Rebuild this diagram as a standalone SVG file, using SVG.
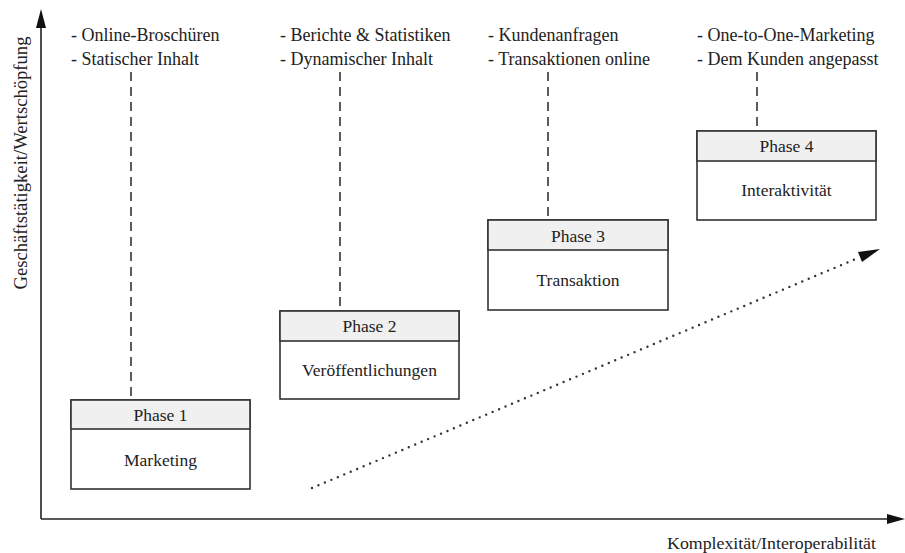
<svg xmlns="http://www.w3.org/2000/svg" width="905" height="553" viewBox="0 0 905 553">
<style>
.t{font-family:"Liberation Serif","Times New Roman",serif;font-size:17.5px;fill:#222}
.top{font-size:18px}
.c{text-anchor:middle}
.box{fill:#fff;stroke:#333;stroke-width:1.6}
.hdr{fill:#f0f0f0;stroke:#333;stroke-width:1.6}
.dash{stroke:#333;stroke-width:1.6;stroke-dasharray:9 6;fill:none}
.axis{stroke:#222;stroke-width:1.6;fill:none}
</style>
<rect width="905" height="553" fill="#fff"/>
<g id="axes">
<line class="axis" x1="41" y1="26" x2="41" y2="519"/>
<line class="axis" x1="41" y1="519" x2="890" y2="519"/>
<polygon points="41,9 36,28 46,28" fill="#111"/>
<polygon points="905,519 887,514 887,524" fill="#111"/>
<text class="t c" transform="translate(27,163) rotate(-90)" textLength="253" lengthAdjust="spacingAndGlyphs" style="font-size:18px">Geschäftstätigkeit/Wertschöpfung</text>
<text class="t" x="876" y="549" text-anchor="end" textLength="209" lengthAdjust="spacingAndGlyphs">Komplexität/Interoperabilität</text>
</g>
<g id="connectors">
<line class="dash" x1="131" y1="72" x2="131" y2="400"/>
<line class="dash" x1="340" y1="72" x2="340" y2="311"/>
<line class="dash" x1="548" y1="72" x2="548" y2="220"/>
<line class="dash" x1="757" y1="72" x2="757" y2="131"/>
<line x1="312" y1="488" x2="858" y2="258" stroke="#333" stroke-width="2.4" stroke-linecap="round" stroke-dasharray="0 7"/>
<polygon points="880,249 858,252 862,262" fill="#111"/>
</g>
<g id="labels">
<text class="t top" x="71" y="41">- Online-Broschüren</text>
<text class="t top" x="71" y="65">- Statischer Inhalt</text>
<text class="t top" x="280" y="41">- Berichte &amp; Statistiken</text>
<text class="t top" x="280" y="65">- Dynamischer Inhalt</text>
<text class="t top" x="488" y="41">- Kundenanfragen</text>
<text class="t top" x="488" y="65">- Transaktionen online</text>
<text class="t top" x="697" y="41">- One-to-One-Marketing</text>
<text class="t top" x="697" y="65">- Dem Kunden angepasst</text>
</g>
<g id="phase1">
<rect class="box" x="71" y="400" width="179" height="89"/>
<rect class="hdr" x="71" y="400" width="179" height="29"/>
<text class="t c" x="160.5" y="421">Phase 1</text>
<text class="t c" x="160.5" y="466">Marketing</text>
</g>
<g id="phase2">
<rect class="box" x="280" y="311" width="179" height="88"/>
<rect class="hdr" x="280" y="311" width="179" height="30"/>
<text class="t c" x="369.5" y="332">Phase 2</text>
<text class="t c" x="369.5" y="376">Veröffentlichungen</text>
</g>
<g id="phase3">
<rect class="box" x="488" y="220" width="180" height="90"/>
<rect class="hdr" x="488" y="220" width="180" height="30"/>
<text class="t c" x="578" y="242">Phase 3</text>
<text class="t c" x="578" y="286">Transaktion</text>
</g>
<g id="phase4">
<rect class="box" x="697" y="131" width="179" height="89"/>
<rect class="hdr" x="697" y="131" width="179" height="30"/>
<text class="t c" x="786.5" y="152">Phase 4</text>
<text class="t c" x="786.5" y="196">Interaktivität</text>
</g>
</svg>
